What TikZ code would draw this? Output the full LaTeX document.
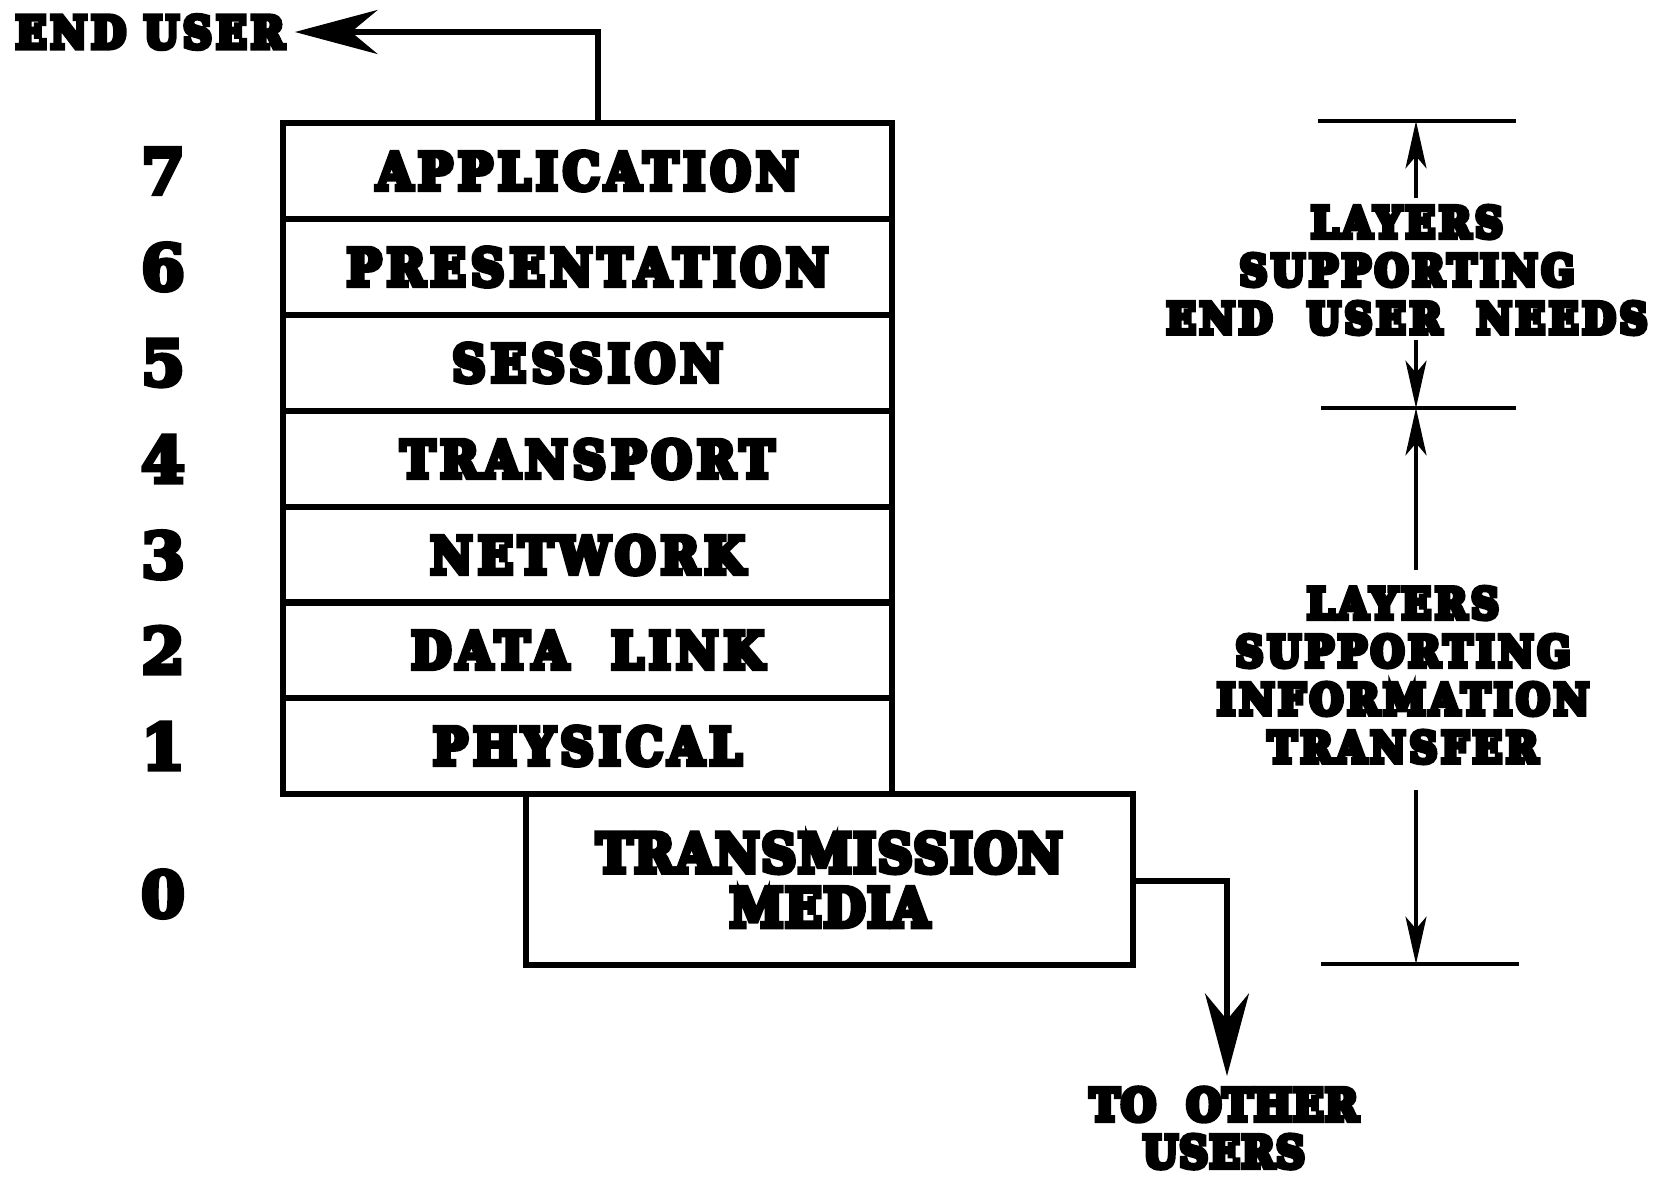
\documentclass[tikz,border=0pt]{standalone}
\usepackage{fontspec}
\usetikzlibrary{arrows.meta}
% tracked slab-serif faces for the different kinds of text
\newfontfamily\labelfont{DejaVu Serif Bold}[FakeStretch=0.9, LetterSpace=11]
\newfontfamily\capfont{DejaVu Serif Bold}[FakeStretch=0.9, LetterSpace=10.5]
\newfontfamily\userfont{DejaVu Serif Bold}[FakeStretch=0.9, LetterSpace=10.5]
\newfontfamily\mediafont{DejaVu Serif Bold}[FakeStretch=0.9, LetterSpace=3.5]
\newfontfamily\otherfont{DejaVu Serif Bold}[FakeStretch=0.9, LetterSpace=4]
\newfontfamily\numfont{DejaVu Serif Bold}
% fat-face look: fill and stroke the glyph outlines (width in bp)
\newcommand{\ink}[1]{\special{pdf:literal direct 2 Tr #1 w}}
\tikzset{
  layerbox/.style={draw, line width=3.4pt, minimum width=12.18cm, minimum height=1.918cm,
    inner sep=0pt, font=\labelfont\fontsize{29}{29}\selectfont\ink{3}},
  layernum/.style={font=\numfont\fontsize{36}{36}\selectfont\ink{2.4}, inner sep=0pt},
  caption/.style={font=\capfont\fontsize{24}{27.3}\selectfont\ink{3}, align=center, inner sep=0pt},
  bigtip/.style={-{Stealth[length=47pt, width=25pt, inset=15pt]}},
  smalltip/.style={-{Stealth[length=27pt, width=12pt, inset=7pt]}},
  wire/.style={line width=3.4pt},
  shaft/.style={line width=1.8pt},
  rule/.style={line width=2.4pt}
}
\begin{document}
\begin{tikzpicture}[x=0.02cm, y=-0.02cm]
\useasboundingbox[fill=white] (0,0) rectangle (1654,1177);

% the seven layer stack
\node[layerbox] (l7) at (587.5,171) {APPLICATION};
\node[layerbox] (l6) at (587.5,267) {PRESENTATION};
\node[layerbox] (l5) at (587.5,363) {SESSION};
\node[layerbox] (l4) at (587.5,459) {TRANSPORT};
\node[layerbox] (l3) at (587.5,555) {NETWORK};
\node[layerbox] (l2) at (587.5,650) {DATA\ \ LINK};
\node[layerbox] (l1) at (587.5,746) {PHYSICAL};

% transmission media below the stack
\node[layerbox, minimum width=12.14cm, minimum height=3.42cm, align=center,
      font=\mediafont\fontsize{30.5}{31}\selectfont\ink{3}] (l0) at (829.5,879.5)
      {TRANSMISSION\\MEDIA};

% layer numbers
\node[layernum] (n7) at (163,171) {7};
\node[layernum] (n6) at (163,267) {6};
\node[layernum] (n5) at (163,363) {5};
\node[layernum] (n4) at (163,459) {4};
\node[layernum] (n3) at (163,555) {3};
\node[layernum] (n2) at (163,650) {2};
\node[layernum] (n1) at (163,746) {1};
\node[layernum] (n0) at (163,894) {0};

% end user connection
\node[font=\userfont\fontsize{25}{25}\selectfont\ink{3}, inner sep=0pt] (eu) at (150,32) {END\ USER};
\coordinate (eutop) at (598,123);
\draw[wire, bigtip] (eutop) |- ([xshift=6pt]eu.east);

% to other users
\node[caption, font=\otherfont\fontsize{25}{26.8}\selectfont\ink{3}] (ou) at (1224,1128)
      {TO\ \ OTHER\\USERS};
\coordinate (oudrop) at (1227,1076);
\draw[wire, bigtip] (l0.east |- 0,881) -| (oudrop);

% brackets on the right
\coordinate (r1) at (1416,121);
\coordinate (r2) at (1416,408);
\coordinate (r3) at (1416,964);
\draw[rule] (1318,121) -- (1516,121);
\draw[rule] (1321,408) -- (1516,408);
\draw[rule] (1321,964) -- (1519,964);

\node[caption] (b1) at (1407,270) {LAYERS\\SUPPORTING\\END\ \ USER\ \ NEEDS};
\node[caption] (b2) at (1403,675) {LAYERS\\SUPPORTING\\INFORMATION\\TRANSFER};

\coordinate (a1) at (1416,198);
\coordinate (a2) at (1416,340);
\coordinate (a3) at (1416,570);
\coordinate (a4) at (1416,790);
\draw[shaft, smalltip] (a1) -- (r1);
\draw[shaft, smalltip] (a2) -- (r2);
\draw[shaft, smalltip] (a3) -- (r2);
\draw[shaft, smalltip] (a4) -- (r3);
\end{tikzpicture}
\end{document}
